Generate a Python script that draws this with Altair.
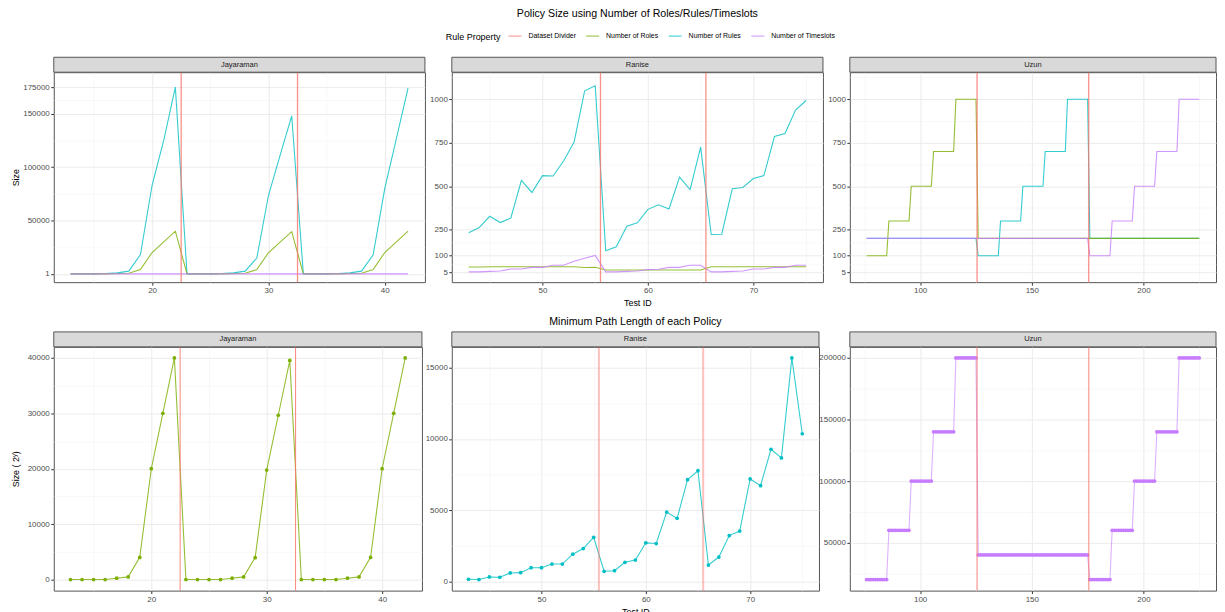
import json
import altair as alt
import pandas as pd

PROPS = ["Dataset Divider", "Number of Roles", "Number of Rules", "Number of Timeslots"]
COLORS = ["#F8766D", "#7CAE00", "#00BFC4", "#C77CFF"]
DRAW_ORDER = ["Number of Rules", "Number of Roles", "Number of Timeslots"]

# ---------------- Jayaraman (Test IDs 13..42) ----------------
jay_ids = list(range(13, 43))
jay_roles = [1, 1, 1, 1, 240, 480, 4000, 20000, 30000, 40000,
             1, 1, 1, 1, 240, 480, 3950, 19750, 29650, 39500,
             1, 1, 1, 1, 240, 480, 4000, 20000, 30000, 40000]
jay_rules = [1, 1, 1, 300, 900, 2500, 18000, 83000, 125000, 175000,
             1, 1, 1, 300, 900, 2500, 14800, 73400, 111000, 148000,
             1, 1, 1, 300, 900, 2500, 17900, 80000, 127000, 174000]
jay_slots = [1, 1, 1, 1, 1, 1, 1, 1, 1, 1,
             1, 1, 1, 1, 1, 1, 1, 1, 1, 1,
             1, 1, 1, 1, 1, 1, 1, 1, 1, 1]
jay_path = [0, 0, 0, 0, 240, 480, 4000, 20000, 30000, 40000,
            0, 0, 0, 0, 240, 480, 3950, 19750, 29650, 39550,
            0, 0, 0, 0, 240, 480, 4000, 20000, 30000, 40000]
jay_div = [22.5, 32.5]

# ---------------- Ranise (Test IDs 43..75) ----------------
ran_ids = list(range(43, 76))
ran_roles = [35, 35, 37, 37, 37, 37, 37, 37, 37, 37, 37, 32, 34,
             18, 18, 18, 18, 18, 18, 18, 18, 18, 18,
             37, 37, 37, 37, 37, 37, 37, 37, 37, 37]
ran_rules = [232, 262, 327, 291, 317, 534, 464, 561, 559, 645, 754, 1049, 1078,
             129, 152, 270, 289, 367, 393, 369, 552, 481, 725,
             222, 224, 485, 493, 544, 561, 786, 803, 938, 993]
ran_slots = [7, 7, 10, 12, 24, 24, 33, 33, 45, 45, 68, 85, 102,
             7, 7, 10, 12, 20, 22, 33, 33, 45, 45,
             7, 7, 10, 12, 24, 24, 33, 33, 45, 45]
ran_path = [140, 120, 300, 280, 580, 605, 950, 950, 1210, 1210, 1900, 2300, 3090,
            700, 740, 1330, 1490, 2700, 2650, 4860, 4420, 7140, 7770,
            1140, 1700, 3210, 3530, 7190, 6720, 9280, 8670, 15700, 10370]
ran_div = [55.5, 65.5]

# ---------------- Uzun (Test IDs 76..225, constant within blocks of 10) ----------------
uzun_first_id = 76
uzun_block_len = 10
uzun_roles_blocks = [100, 300, 500, 700, 1000, 200, 200, 200, 200, 200, 200, 200, 200, 200, 200]
uzun_rules_blocks = [200, 200, 200, 200, 200, 100, 300, 500, 700, 1000, 200, 200, 200, 200, 200]
uzun_slots_blocks = [200, 200, 200, 200, 200, 200, 200, 200, 200, 200, 100, 300, 500, 700, 1000]
uzun_path_blocks = [20000, 60000, 100000, 140000, 200000, 40000, 40000, 40000, 40000, 40000,
                    20000, 60000, 100000, 140000, 200000]
uzun_div = [125.5, 175.5]


def expand_blocks(blocks):
    ids, vals = [], []
    for b, v in enumerate(blocks):
        for k in range(uzun_block_len):
            ids.append(uzun_first_id + b * uzun_block_len + k)
            vals.append(v)
    return ids, vals


uz_ids, uz_roles = expand_blocks(uzun_roles_blocks)
_, uz_rules = expand_blocks(uzun_rules_blocks)
_, uz_slots = expand_blocks(uzun_slots_blocks)
_, uz_path = expand_blocks(uzun_path_blocks)


def series_dfs(ids, roles, rules, slots):
    src = {"Number of Roles": roles, "Number of Rules": rules, "Number of Timeslots": slots}
    return [pd.DataFrame({"id": ids, "value": src[p], "prop": [p] * len(ids)}) for p in DRAW_ORDER]


def path_df(ids, vals, prop):
    return pd.DataFrame({"id": ids, "value": vals, "prop": [prop] * len(ids)})


def div_df(vals):
    return pd.DataFrame({"id": vals, "prop": ["Dataset Divider"] * len(vals)})


color_scale = alt.Scale(domain=PROPS, range=COLORS)
LEGEND = alt.Legend(
    orient="none", legendX=394, legendY=-44, direction="horizontal",
    title="Rule Property", titleOrient="left", titleFontSize=9, titleFontWeight="normal",
    titleColor="#000000", titlePadding=6, titleBaseline="line-top", titleLineHeight=9.5,
    labelFontSize=7, labelColor="#000000",
    symbolType="stroke", symbolSize=170, symbolStrokeWidth=1.5, symbolOpacity=0.55,
    columnPadding=6, labelOffset=6,
)


def make_axis(majors, minors, title=None, extra=None):
    vals = sorted(majors + minors)
    test = "indexof(%s, datum.value) >= 0" % json.dumps(majors)
    kw = dict(
        values=vals,
        format="d",
        labelExpr="%s ? datum.label : ''" % test,
        labelOverlap=False,
        labelFlush=False,
        gridColor={"condition": {"test": test, "value": "#EBEBEB"}, "value": "#F4F4F4"},
        gridWidth={"condition": {"test": test, "value": 1}, "value": 0.6},
        tickOpacity={"condition": {"test": test, "value": 1}, "value": 0},
        title=title,
    )
    if extra:
        kw.update(extra)
    return alt.Axis(**kw)


def strip(name, w):
    d = pd.DataFrame({"label": [name]})
    rect = alt.Chart(d).mark_rect(fill="#D9D9D9", stroke="#555555", strokeWidth=1).encode(
        x=alt.value(0), x2=alt.value(w), y=alt.value(-15), y2=alt.value(0))
    txt = alt.Chart(d).mark_text(fontSize=7.5, color="#1A1A1A", baseline="middle").encode(
        x=alt.value(w / 2), y=alt.value(-7.5), text="label:N")
    return [rect, txt]


def panel(name, w, h, line_dfs, divs, xdom, xmaj, xmin, ydom, ymaj, ymin,
          ytitle=None, xtitle=None, title=None, points=False,
          div_style=None, line_opacity=0.8):
    xaxis = make_axis(xmaj, xmin, xtitle, {"titlePadding": 4})
    yextra = {"titleX": -35, "titleY": h / 2, "titleBaseline": "alphabetic", "titleAngle": -90,
              "titleAlign": "center"}
    yaxis = make_axis(ymaj, ymin, ytitle, yextra)
    xs = alt.Scale(domain=xdom, nice=False, zero=False)
    ys = alt.Scale(domain=ydom, nice=False, zero=False)
    x = alt.X("id:Q", scale=xs, axis=xaxis)
    y = alt.Y("value:Q", scale=ys, axis=yaxis)
    col = alt.Color("prop:N", scale=color_scale, legend=LEGEND)
    ds = div_style or {"strokeWidth": 1.3, "opacity": 0.8}
    layers = []
    for d in line_dfs:
        layers.append(alt.Chart(d).mark_line(strokeWidth=1.1, opacity=line_opacity, clip=True).encode(
            x=x, y=y, color=col))
    if points:
        for d in line_dfs:
            layers.append(alt.Chart(d).mark_circle(size=14, opacity=1).encode(
                x=x, y=y, color=col))
    layers.append(alt.Chart(div_df(divs)).mark_rule(**ds).encode(
        x=alt.X("id:Q", scale=xs), color=col))
    layers += strip(name, w)
    ch = alt.layer(*layers).properties(width=w, height=h)
    if title is not None:
        ch = ch.properties(title=title)
    return ch


JX = [11.55, 43.45]
RX = [41.4, 76.6]
UX = [68.5, 232.5]
top_ymaj = [5, 100, 250, 500, 750, 1000]
top_ymin = [52.5, 175, 375, 625, 875, 1125]

p1 = panel("Jayaraman", 373, 211, series_dfs(jay_ids, jay_roles, jay_rules, jay_slots), jay_div,
           JX, [20, 30, 40], [15, 25, 35], [-7800, 189000],
           [1, 50000, 100000, 150000, 175000], [25000, 75000, 125000, 162500], ytitle="Size")
p2 = panel("Ranise", 373, 211, series_dfs(ran_ids, ran_roles, ran_rules, ran_slots), ran_div,
           RX, [50, 60, 70], [45, 55, 65, 75], [-52, 1156], top_ymaj, top_ymin,
           xtitle="Test ID",
           title=alt.TitleParams("Policy Size using Number of Roles/Rules/Timeslots", offset=37.5,
                                 fontSize=10.7))
p3 = panel("Uzun", 368, 211, series_dfs(uz_ids, uz_roles, uz_rules, uz_slots), uzun_div,
           UX, [100, 150, 200], [75, 125, 175, 225], [-52, 1156], top_ymaj, top_ymin)

p4 = panel("Jayaraman", 370, 245, [path_df(jay_ids, jay_path, "Number of Roles")], jay_div,
           JX, [20, 30, 40], [15, 25, 35], [-2000, 42000],
           [0, 10000, 20000, 30000, 40000], [5000, 15000, 25000, 35000],
           ytitle="Size ( 2ʸ)", points=True,
           div_style={"strokeWidth": 1, "opacity": 0.9}, line_opacity=0.8)
p5 = panel("Ranise", 369, 245, [path_df(ran_ids, ran_path, "Number of Rules")], ran_div,
           RX, [50, 60, 70], [45, 55, 65, 75], [-660, 16480],
           [0, 5000, 10000, 15000], [2500, 7500, 12500],
           xtitle="Test ID", points=True,
           title=alt.TitleParams("Minimum Path Length of each Policy", offset=4, fontSize=10.7),
           div_style={"strokeWidth": 2, "opacity": 0.45}, line_opacity=0.8)
p6 = panel("Uzun", 368, 245, [path_df(uz_ids, uz_path, "Number of Timeslots")], uzun_div,
           UX, [100, 150, 200], [75, 125, 175, 225], [11000, 209000],
           [50000, 100000, 150000, 200000], [25000, 75000, 125000, 175000],
           points=True, div_style={"strokeWidth": 1.5, "opacity": 0.6}, line_opacity=0.6)

chart = alt.concat(p1, p2, p3, p4, p5, p6, columns=3).properties(
    spacing={"row": 65, "column": 27},
    bounds="flush",
    align="each",
    padding={"left": 3, "top": -3, "right": 0, "bottom": 0},
).configure(font="Liberation Sans").configure_view(
    stroke="#555555", strokeWidth=1
).configure_axis(
    domain=False, tickColor="#333333", tickSize=3, labelColor="#4D4D4D", labelFontSize=8,
    titleColor="#000000", titleFontSize=9, titleFontWeight="normal", labelPadding=1.5,
    labelFlush=False, labelOverlap=False
).configure_title(
    fontSize=11, fontWeight="normal", color="#000000", anchor="middle"
)

chart.save("out.html", embed_options={"renderer": "svg", "actions": False})
